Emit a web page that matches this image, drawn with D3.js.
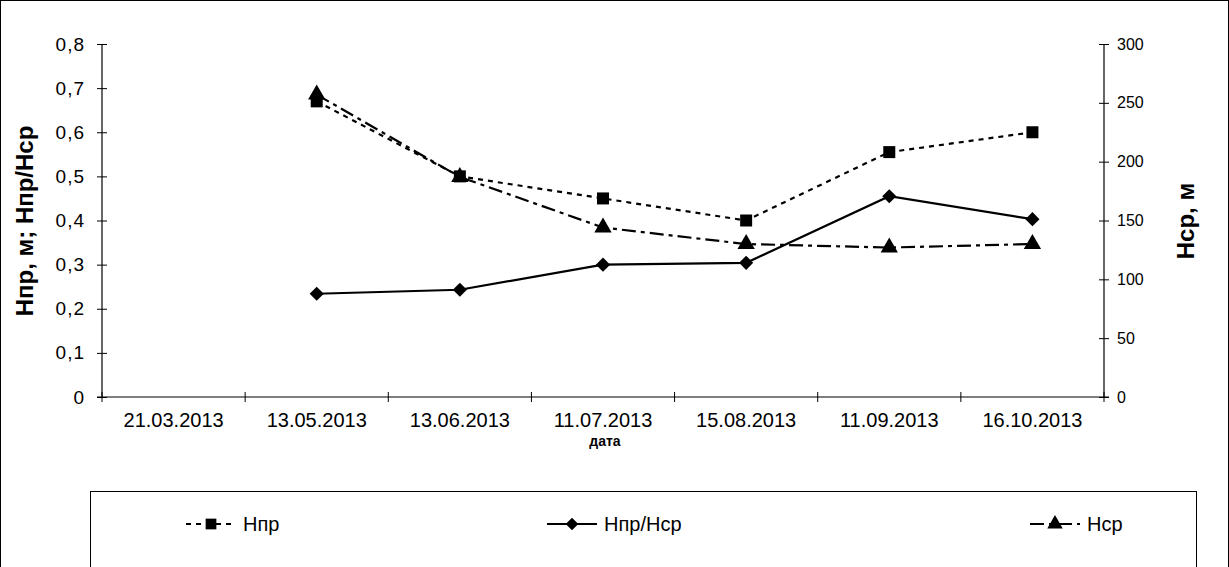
<!DOCTYPE html>
<html>
<head>
<meta charset="utf-8">
<script src="https://cdn.jsdelivr.net/npm/d3@7"></script>
<style>
  html, body { margin: 0; padding: 0; background: #fff; }
  svg { display: block; font-family: "Liberation Sans", Arial, sans-serif; }
</style>
</head>
<body>
<svg id="chart" width="1229" height="567"></svg>
<script>
// Observation dates (categories on the x axis)
const dates = ["21.03.2013", "13.05.2013", "13.06.2013", "11.07.2013", "15.08.2013", "11.09.2013", "16.10.2013"];
// Hпр, м (left axis)
const hpr = [null, 0.67, 0.50, 0.45, 0.40, 0.555, 0.60];
// Hпр/Hср (left axis)
const ratio = [null, 0.234, 0.243, 0.30, 0.304, 0.455, 0.403];
// Hср, м (right axis)
const hsr = [null, 257, 187, 144, 130, 127, 130];
// Axis ticks
const leftTicks = [0, 0.1, 0.2, 0.3, 0.4, 0.5, 0.6, 0.7, 0.8];
const rightTicks = [0, 50, 100, 150, 200, 250, 300];

const svg = d3.select("#chart");
const W = 1229, H = 567;
const plot = { left: 102, right: 1104, top: 44, bottom: 397 };
const FONT = "Liberation Sans, Arial, sans-serif";

// Outer chart frame
svg.append("rect").attr("x", 0.5).attr("y", 0.5).attr("width", W - 1).attr("height", H + 10)
  .attr("fill", "none").attr("stroke", "#000").attr("stroke-width", 1);

const x = d3.scaleBand().domain(dates).range([plot.left, plot.right]).padding(0);
const yL = d3.scaleLinear().domain([0, 0.8]).range([plot.bottom, plot.top]);
const yR = d3.scaleLinear().domain([0, 300]).range([plot.bottom, plot.top]);
const cx = d => x(d) + x.bandwidth() / 2;

const fmt = v => v === 0 ? "0" : d3.format(".1f")(v).replace(".", ",");

// Left axis
const gL = svg.append("g").attr("transform", `translate(${plot.left},0)`)
  .call(d3.axisLeft(yL).tickValues(leftTicks).tickFormat(fmt).tickSize(0).tickPadding(17));
gL.select(".domain").remove();
gL.selectAll(".tick text").attr("font-size", 19).attr("fill", "#000").attr("font-family", FONT)
  .attr("letter-spacing", 1);
gL.selectAll(".tick").append("line").attr("x1", -5).attr("x2", 5).attr("stroke", "#000");
svg.append("line").attr("x1", plot.left).attr("x2", plot.left).attr("y1", plot.top).attr("y2", plot.bottom)
  .attr("stroke", "#000").attr("stroke-width", 1.2);

// Right axis
const gR = svg.append("g").attr("transform", `translate(${plot.right},0)`)
  .call(d3.axisRight(yR).tickValues(rightTicks).tickSize(0).tickPadding(13));
gR.select(".domain").remove();
gR.selectAll(".tick text").attr("font-size", 16).attr("fill", "#000").attr("font-family", FONT);
gR.selectAll(".tick").append("line").attr("x1", -5).attr("x2", 5).attr("stroke", "#000");
svg.append("line").attr("x1", plot.right).attr("x2", plot.right).attr("y1", plot.top).attr("y2", plot.bottom)
  .attr("stroke", "#000").attr("stroke-width", 1.2);

// Category axis
const gX = svg.append("g").attr("transform", `translate(0,${plot.bottom})`)
  .call(d3.axisBottom(x).tickSize(0).tickPadding(16));
gX.select(".domain").remove();
gX.selectAll(".tick text").attr("font-size", 20).attr("fill", "#000").attr("font-family", FONT);
svg.append("line").attr("x1", plot.left - 5).attr("x2", plot.right + 5).attr("y1", plot.bottom).attr("y2", plot.bottom)
  .attr("stroke", "#000").attr("stroke-width", 1.2);
const edges = dates.map(d => x(d)).concat([plot.right]);
svg.append("g").selectAll("line").data(edges).join("line")
  .attr("x1", d => d).attr("x2", d => d).attr("y1", plot.bottom - 5).attr("y2", plot.bottom + 5)
  .attr("stroke", "#000");

// Axis titles
svg.append("text").attr("transform", `translate(33,221) rotate(-90)`).attr("text-anchor", "middle")
  .attr("font-size", 24).attr("font-weight", "bold").text("Hпр, м; Hпр/Hср");
svg.append("text").attr("transform", `translate(1194,221) rotate(-90)`).attr("text-anchor", "middle")
  .attr("font-size", 24).attr("font-weight", "bold").text("Hср, м");
svg.append("text").attr("x", 605).attr("y", 446).attr("text-anchor", "middle")
  .attr("font-size", 14).attr("font-weight", "bold").text("дата");

// Series
const series = [
  { name: "Hпр", values: hpr, y: yL, dash: "5,5", symbol: d3.symbolSquare, size: 144, rot: 0 },
  { name: "Hпр/Hср", values: ratio, y: yL, dash: null, symbol: d3.symbolSquare, size: 100, rot: 45 },
  { name: "Hср", values: hsr, y: yR, dash: "14,5,4,5", symbol: d3.symbolTriangle, size: 130, rot: 0 }
];

series.forEach(s => {
  const pts = dates.map((d, i) => ({ d, v: s.values[i] })).filter(p => p.v != null);
  const line = d3.line().x(p => cx(p.d)).y(p => s.y(p.v));
  svg.append("path").datum(pts).attr("d", line).attr("fill", "none").attr("stroke", "#000")
    .attr("stroke-width", 2.2).attr("stroke-dasharray", s.dash);
  svg.append("g").selectAll("path").data(pts).join("path")
    .attr("d", d3.symbol().type(s.symbol).size(s.size))
    .attr("transform", p => `translate(${cx(p.d)},${s.y(p.v)}) rotate(${s.rot})`)
    .attr("fill", "#000");
});

// Legend
svg.append("rect").attr("x", 90.5).attr("y", 491.5).attr("width", 1106).attr("height", 100)
  .attr("fill", "none").attr("stroke", "#000").attr("stroke-width", 1);
const legendX = [186, 547, 1030];
const legendY = 524;
series.forEach((s, i) => {
  const g = svg.append("g").attr("transform", `translate(${legendX[i]},${legendY})`);
  g.append("line").attr("x1", 0).attr("x2", 50).attr("y1", 0).attr("y2", 0)
    .attr("stroke", "#000").attr("stroke-width", 2.2).attr("stroke-dasharray", s.dash);
  g.append("path").attr("d", d3.symbol().type(s.symbol).size(s.size * 0.8)())
    .attr("transform", `translate(25,0) rotate(${s.rot})`).attr("fill", "#000");
  g.append("text").attr("x", 57).attr("y", 7).attr("font-size", 20).text(s.name);
});
</script>
</body>
</html>
